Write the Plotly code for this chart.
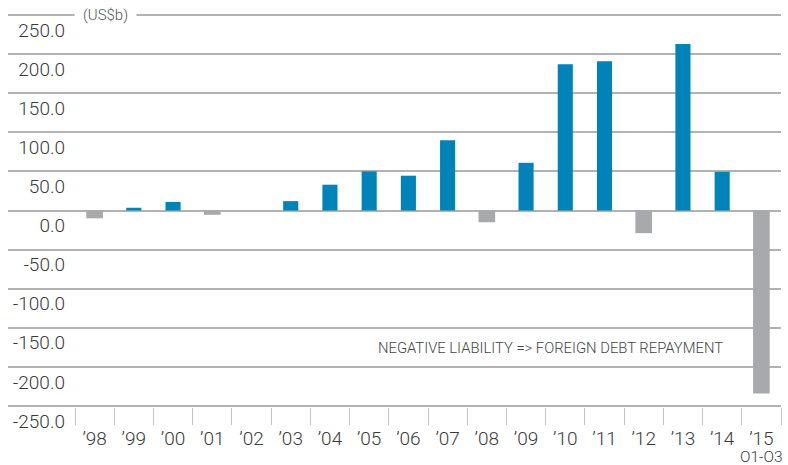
import plotly.graph_objects as go

# ---- data ----
years = ["’98", "’99", "’00", "’01", "’02", "’03", "’04", "’05", "’06", "’07",
         "’08", "’09", "’10", "’11", "’12", "’13", "’14", "’15"]
liability = [-10, 3.5, 11, -5.5, 0, 12, 33, 50, 44.5, 90,
             -15, 61, 187, 191, -29, 213, 49.5, -234]
y_ticks = [250, 200, 150, 100, 50, 0, -50, -100, -150, -200, -250]
y_tick_labels = ["250.0", "200.0", "150.0", "100.0", "50.0", "0.0",
                 "-50.0", "-100.0", "-150.0", "-200.0", "-250.0"]
unit_label = "(US$b)"
note_text = "NEGATIVE LIABILITY => FOREIGN DEBT REPAYMENT"
last_sub = "O1-O3"

BLUE = "#0083b8"
GREY = "#a8a9ad"
GRID = "#b2b2b2"
TXT = "#3a3a3a"
FONT = "Roboto"

colors = [BLUE if v >= 0 else GREY for v in liability]
widths = [0.385 if v >= 0 else 0.425 for v in liability]

fig = go.Figure(go.Bar(x=years, y=liability, marker=dict(color=colors, line=dict(width=0)),
                       width=widths, hoverinfo="skip"))

W, H = 788, 465
L, R, T, B = 8, 7, 14, 58
plot_w = W - L - R
cat_w = (781 - 75) / len(years)
left_ext = (75 - L) / cat_w

fig.update_layout(
    width=W, height=H,
    margin=dict(l=L, r=R, t=T, b=B, pad=0),
    paper_bgcolor="white", plot_bgcolor="white",
    showlegend=False,
    font=dict(family=FONT, color=TXT, size=19, weight=300),
)
fig.update_xaxes(
    type="category", categoryorder="array", categoryarray=years,
    range=[-0.5 - left_ext, len(years) - 0.5],
    tickmode="array", tickvals=years, ticktext=years,
    tickson="boundaries", ticks="outside", ticklen=17, tickwidth=1.3, tickcolor="#c4c4c4",
    ticklabelstandoff=18,
    showgrid=False, showline=False, zeroline=False, automargin=False,
    tickfont=dict(size=19, color=TXT, family=FONT, weight=300),
)
fig.update_yaxes(
    range=[-251.3, 251.3], anchor="free", position=(75 - L) / plot_w,
    tickmode="array", tickvals=y_ticks, ticktext=y_tick_labels,
    showgrid=True, gridcolor=GRID, gridwidth=1.6,
    zeroline=False, showline=False, ticks="", automargin=False,
    ticklabelstandoff=10, ticklabelshift=15,
    tickfont=dict(size=19, color=TXT, family=FONT, weight=300),
)

fig.add_annotation(text=unit_label, xref="paper", x=(105 - L) / plot_w, yref="y", y=250,
                   xanchor="center", yanchor="middle", showarrow=False, bgcolor="white",
                   borderpad=8, font=dict(size=15, color="#555555", family=FONT, weight=300))
fig.add_annotation(text=note_text, xref="paper", x=(550 - L) / plot_w, yref="y", y=-176,
                   xanchor="center", yanchor="middle", showarrow=False,
                   font=dict(size=14.8, color="#444444", family=FONT, weight=300))
fig.add_annotation(text=last_sub, xref="x", x=years[-1], yref="paper", y=0,
                   xanchor="center", yanchor="middle", yshift=-50, showarrow=False,
                   borderpad=0,
                   font=dict(size=15.5, color=TXT, family=FONT, weight=300))

fig.write_html("out.html", config={"displayModeBar": False},
               post_script="document.body.style.margin='0';")
